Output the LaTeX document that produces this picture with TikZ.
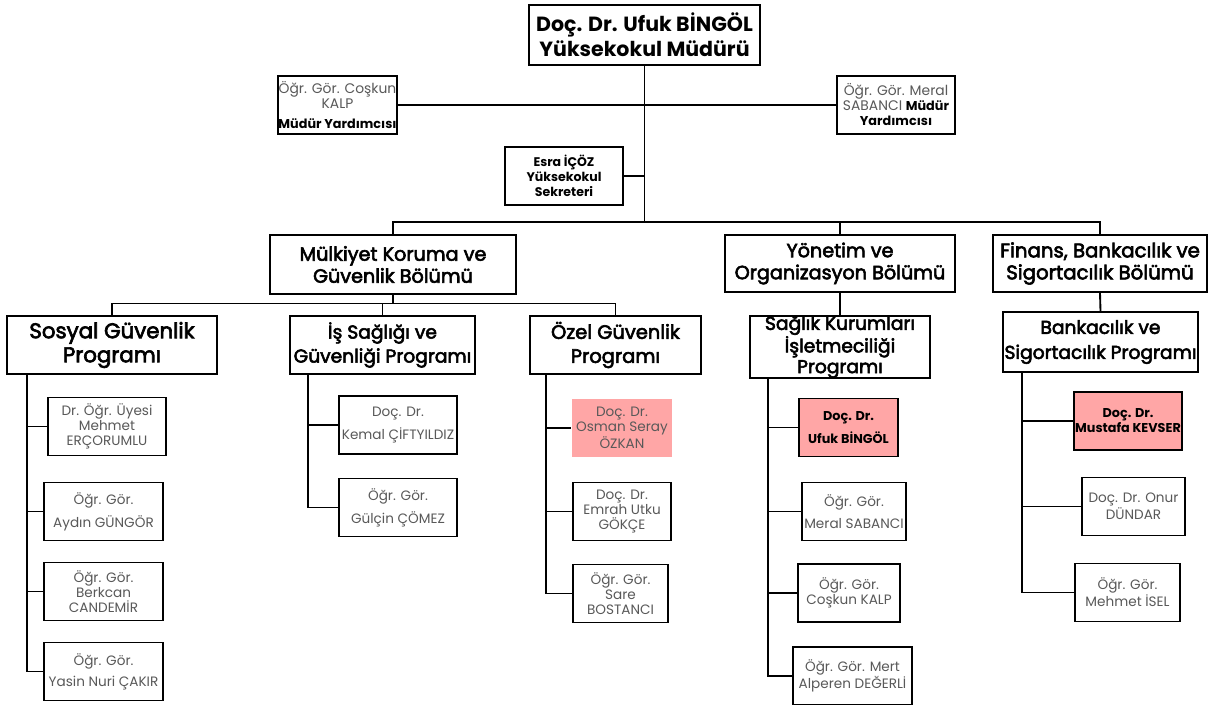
\documentclass[tikz,border=0pt]{standalone}
\usepackage{fontspec}
\setmainfont{Poppins}
\newfontfamily\headfont{Poppins}[FakeBold=3]
\definecolor{staffgray}{RGB}{89,89,89}
\definecolor{chairpink}{RGB}{255,166,166}

\tikzset{
  unitbox/.style={draw, line width=1.4pt, fill=white, align=center, inner sep=0pt},
  headbox/.style={unitbox, font=\headfont\fontsize{14.4}{16.5}\selectfont},
  progbox/.style={unitbox, font=\headfont\fontsize{14}{18}\selectfont},
  staffbox/.style={unitbox, text=staffgray, font=\fontsize{10.2}{11.25}\selectfont, minimum height=43.5pt},
  chairbox/.style={staffbox, fill=chairpink, text=black, font=\fontsize{9.6}{11.25}\selectfont\bfseries},
  link/.style={line width=1.4pt, line join=miter},
}

\begin{document}
\begin{tikzpicture}[x=0.75pt,y=0.75pt,yscale=-1,xscale=1]
\useasboundingbox (0,0) rectangle (1211,704);

% Direction
\node[unitbox, font=\fontsize{15.4}{18.75}\selectfont\bfseries, minimum width=173pt, minimum height=45pt] (mudur) at (644.5,35) {Doç. Dr. Ufuk BİNGÖL\\Yüksekokul Müdürü};
\node[staffbox, font=\fontsize{10.4}{11.25}\selectfont, minimum width=89pt] (yrdkalp) at (337.5,105) {Öğr. Gör. Coşkun\\KALP\\[4pt]\textcolor{black}{\bfseries\fontsize{9.6}{11.25}\selectfont Müdür Yardımcısı}};
\node[staffbox, font=\fontsize{10.4}{11.25}\selectfont, minimum width=88.5pt] (yrdsabanci) at (896,105) {Öğr. Gör. Meral\\SABANCI \textcolor{black}{\bfseries\fontsize{9.6}{11.25}\selectfont Müdür}\\\textcolor{black}{\bfseries\fontsize{9.6}{11.25}\selectfont Yardımcısı}};
\node[staffbox, text=black, font=\fontsize{9.4}{11.25}\selectfont\bfseries, minimum width=88.5pt] (sekreter) at (564,176) {Esra İÇÖZ\\Yüksekokul\\Sekreteri};

% Departments
\node[headbox, minimum width=184.5pt, minimum height=44pt] (mulkiyet) at (393,264.5) {Mülkiyet Koruma ve\\Güvenlik Bölümü};
\node[headbox, font=\headfont\fontsize{14.4}{16.5}\selectfont, minimum width=172.5pt, minimum height=43pt] (yonetim) at (840,263.5) {Yönetim ve\\Organizasyon Bölümü};
\node[headbox, font=\headfont\fontsize{14.8}{16.5}\selectfont, minimum width=160.5pt, minimum height=43pt] (finans) at (1100,263.5) {Finans, Bankacılık ve\\Sigortacılık Bölümü};

% Programmes
\node[progbox, font=\headfont\fontsize{16}{18}\selectfont, minimum width=157.5pt, minimum height=43.5pt] (sosyal) at (112,345) {Sosyal Güvenlik\\Programı};
\node[progbox, minimum width=138.75pt, minimum height=43.5pt] (isg) at (382.5,345) {İş Sağlığı ve\\Güvenliği Programı};
\node[progbox, font=\headfont\fontsize{14.6}{18}\selectfont, minimum width=128.25pt, minimum height=43.5pt] (ozel) at (615.5,345) {Özel Güvenlik\\Programı};
\node[progbox, font=\headfont\fontsize{14}{15.5}\selectfont, minimum width=135pt, minimum height=43.5pt] (saglik) at (840,347) {Sağlık Kurumları\\İşletmeciliği\\Programı};
\node[progbox, font=\headfont\fontsize{14}{18.75}\selectfont, minimum width=146.25pt, minimum height=45pt] (bankacilik) at (1100.5,342) {Bankacılık ve\\Sigortacılık Programı};

% Staff: Sosyal Guvenlik
\node[staffbox, minimum width=88.5pt] (ercorumlu) at (107,426.5) {Dr. Öğr. Üyesi\\Mehmet\\ERÇORUMLU};
\node[staffbox, minimum width=89.25pt] (gungor) at (103.5,511.5) {Öğr. Gör.\\[4.5pt]Aydın GÜNGÖR};
\node[staffbox, minimum width=89.25pt] (candemir) at (103.5,591.5) {Öğr. Gör.\\Berkcan\\CANDEMİR};
\node[staffbox, minimum width=89.25pt] (cakir) at (103.5,671.5) {Öğr. Gör.\\[4.5pt]Yasin Nuri ÇAKIR};

% Staff: Is Sagligi
\node[staffbox, minimum width=88.5pt] (ciftyildiz) at (398,425) {Doç. Dr.\\[4.5pt]Kemal ÇİFTYILDIZ};
\node[staffbox, minimum width=88.5pt] (comez) at (398,507.5) {Öğr. Gör.\\[4.5pt]Gülçin ÇÖMEZ};

% Staff: Ozel Guvenlik
\node[staffbox, draw=none, fill=chairpink, minimum width=75pt] (ozkan) at (622,428) {Doç. Dr.\\Osman Seray\\ÖZKAN};
\node[staffbox, minimum width=73.5pt] (gokce) at (622,511.5) {Doç. Dr.\\Emrah Utku\\GÖKÇE};
\node[staffbox, minimum width=71.25pt] (bostanci) at (620.5,593.5) {Öğr. Gör.\\Sare\\BOSTANCI};

% Staff: Saglik Kurumlari
\node[chairbox, minimum width=74.25pt] (bingol) at (848.5,427.5) {Doç. Dr.\\[4.5pt]Ufuk BİNGÖL};
\node[staffbox, minimum width=78pt] (sabanci) at (854,511.5) {Öğr. Gör.\\[5pt]Meral SABANCI};
\node[staffbox, minimum width=76.5pt] (kalp) at (849,593) {Öğr. Gör.\\Coşkun KALP};
\node[staffbox, minimum width=89.25pt] (degerli) at (852.5,676) {Öğr. Gör. Mert\\Alperen DEĞERLİ};

% Staff: Bankacilik
\node[chairbox, minimum width=81pt] (kevser) at (1128,421) {Doç. Dr.\\Mustafa KEVSER};
\node[staffbox, minimum width=77.25pt] (dundar) at (1133.5,506.5) {Doç. Dr. Onur\\DÜNDAR};
\node[staffbox, minimum width=78.75pt] (isel) at (1127.5,592.5) {Öğr. Gör.\\Mehmet İSEL};

% Connectors
\coordinate (deptbus) at (644.5,222);
\coordinate (progbus) at (393,303.5);
\draw[link] (yrdkalp.east) -- (yrdsabanci.west);
\draw[link] (mudur.south) -- (deptbus);
\draw[link] (sekreter.east) -- (sekreter.east -| mudur.south);
\draw[link] (mulkiyet.north) |- (deptbus);
\draw[link] (yonetim.north) |- (deptbus);
\draw[link] (finans.north) |- (deptbus);
\draw[link] (mulkiyet.south) -- (progbus);
\draw[link] (sosyal.north) |- (progbus);
\draw[link] (isg.north) |- (progbus);
\draw[link] (ozel.north) |- (progbus);
\draw[link] (yonetim.south) -- (saglik.north);
\draw[link] (finans.south) -- (bankacilik.north);

\foreach \s in {ercorumlu,gungor,candemir,cakir}
  \draw[link] ([xshift=15.75pt]sosyal.south west) |- (\s.west);
\foreach \s in {ciftyildiz,comez}
  \draw[link] ([xshift=14.25pt]isg.south west) |- (\s.west);
\foreach \s in {ozkan,gokce,bostanci}
  \draw[link] ([xshift=12.75pt]ozel.south west) |- (\s.west);
\foreach \s in {bingol,sabanci,kalp,degerli}
  \draw[link] ([xshift=14.25pt]saglik.south west) |- (\s.west);
\foreach \s in {kevser,dundar,isel}
  \draw[link] ([xshift=15pt]bankacilik.south west) |- (\s.west);

\end{tikzpicture}
\end{document}
